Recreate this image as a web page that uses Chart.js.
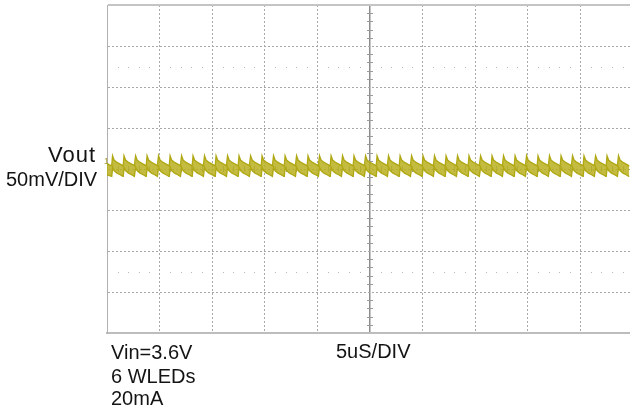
<!DOCTYPE html>
<html>
<head>
<meta charset="utf-8">
<script src="https://cdn.jsdelivr.net/npm/chart.js@4.4.1/dist/chart.umd.min.js"></script>
<style>
  html, body { margin: 0; padding: 0; background: #fff; overflow: hidden; }
  #wrap { position: relative; width: 630px; height: 412px; }
  #c { position: absolute; left: 0; top: 0; }
  .t { position: absolute; font-family: "Liberation Sans", Arial, sans-serif; color: #141414; white-space: nowrap; }
</style>
</head>
<body>
<div id="wrap">
  <canvas id="c" width="630" height="412"></canvas>
  <div class="t" style="right:534px; top:144px; font-size:22px; line-height:22px; letter-spacing:1px;">Vout</div>
  <div class="t" style="left:6px; top:169px; font-size:20px; line-height:20px;">50mV/DIV</div>
  <div class="t" style="left:104px; top:157px; font-size:9px; line-height:9px; color:#a8a030;">1</div>
  <div class="t" style="left:111px; top:342px; font-size:20px; line-height:20px;">Vin=3.6V</div>
  <div class="t" style="left:111px; top:366px; font-size:20px; line-height:20px;">6 WLEDs</div>
  <div class="t" style="left:111px; top:388px; font-size:20px; line-height:20px;">20mA</div>
  <div class="t" style="left:336px; top:341px; font-size:20px; line-height:20px;">5uS/DIV</div>
</div>
<script>
// ---- data ----
// time axis in microseconds (5 us per division), voltage in mV (50 mV per division)
const xTicks = [0, 5, 10, 15, 20, 25, 30, 35, 40, 45];
const yTicks = [-200, -150, -100, -50, 0, 50, 100, 150, 200];
// times (us) at which each ripple spike starts
const spikeTimes = [0.45, 1.54, 2.64, 3.73, 4.82, 5.92, 7.01, 8.10, 9.19, 10.29,
  11.38, 12.47, 13.57, 14.66, 15.75, 16.85, 17.94, 19.03, 20.12, 21.22,
  22.31, 23.40, 24.50, 25.59, 26.68, 27.78, 28.87, 29.96, 31.05, 32.15,
  33.24, 34.33, 35.43, 36.52, 37.61, 38.71, 39.80, 40.89, 41.98, 43.08,
  44.17, 45.26, 46.36, 47.45, 48.54, 49.64];
// one ripple cycle: offsets (us) after the spike start
const cycleOffsets = [0, 0.08, 0.22, 0.50, 0.80, 1.06];
const upperShape = [4, 16, 11, 8, 6, 4];      // top edge of trace band (mV)
const lowerShape = [-9, 2, -2, -5, -7, -9];   // bottom edge of trace band (mV)
const startUpper = 6, startLower = -7;        // trace at the left edge (t = 0)
const xMax = 49.71;

const upper = [{ x: 0, y: startUpper }];
const lower = [{ x: 0, y: startLower }];
spikeTimes.forEach(s => {
  cycleOffsets.forEach((o, i) => {
    const x = s + o;
    if (x <= xMax) {
      upper.push({ x, y: upperShape[i] });
      lower.push({ x, y: lowerShape[i] });
    }
  });
});

const traceColor = 'rgb(176,168,20)';
const traceFill = 'rgba(184,176,30,0.85)';

const scopeDecor = {
  id: 'scopeDecor',
  beforeDatasetsDraw(chart) {
    const { ctx, scales: { x, y } } = chart;
    ctx.save();
    ctx.strokeStyle = '#9a9a9a';
    ctx.lineWidth = 1;
    // minor ticks along the centre vertical line
    const cx = x.getPixelForValue(25);
    for (let v = -200; v <= 200; v += 10) {
      if (v % 50 === 0) continue;
      const py = Math.round(y.getPixelForValue(v)) + 0.5;
      ctx.beginPath(); ctx.moveTo(cx - 3, py); ctx.lineTo(cx + 3, py); ctx.stroke();
    }
    // minor ticks along the centre horizontal line
    const cy = y.getPixelForValue(0);
    for (let t = 0; t <= xMax; t += 1) {
      if (t % 5 === 0) continue;
      const px = Math.round(x.getPixelForValue(t)) + 0.5;
      ctx.beginPath(); ctx.moveTo(px, cy - 3); ctx.lineTo(px, cy + 3); ctx.stroke();
    }
    // faint dot rows at +/- 2.5 divisions
    ctx.fillStyle = '#b8b8b8';
    [125, -125].forEach(v => {
      const py = Math.round(y.getPixelForValue(v));
      for (let t = 1; t <= xMax; t += 1) {
        if (t % 5 === 0) continue;
        const px = Math.round(x.getPixelForValue(t));
        ctx.fillRect(px, py, 1, 1);
      }
    });
    ctx.restore();
  }
};

new Chart(document.getElementById('c'), {
  type: 'line',
  data: {
    datasets: [
      { data: upper, borderColor: traceColor, borderWidth: 1.4, pointRadius: 0, fill: false, tension: 0 },
      { data: lower, borderColor: traceColor, borderWidth: 1.4, pointRadius: 0, fill: '-1', backgroundColor: traceFill, tension: 0 }
    ]
  },
  options: {
    responsive: false,
    animation: false,
    events: [],
    layout: { padding: { left: 107, top: 5, right: 0, bottom: 79 } },
    plugins: { legend: { display: false }, tooltip: { enabled: false } },
    scales: {
      x: {
        type: 'linear', min: 0, max: xMax,
        afterBuildTicks: s => { s.ticks = xTicks.map(v => ({ value: v })); },
        ticks: { display: false },
        grid: {
          drawTicks: false,
          color: c => (c.tick && c.tick.value === 25) ? '#8c8c8c' : '#a8a8a8',
          lineWidth: c => (c.tick && c.tick.value === 25) ? 1.5 : 1
        },
        border: { display: true, color: '#bdbdbd', width: 2, dash: c => (c.tick && c.tick.value === 25) ? [] : [2, 2] }
      },
      y: {
        type: 'linear', min: -200, max: 200,
        afterBuildTicks: s => { s.ticks = yTicks.map(v => ({ value: v })); },
        ticks: { display: false },
        grid: {
          drawTicks: false,
          color: c => (c.tick && c.tick.value === 200) ? '#c4c4c4' : '#a8a8a8',
          lineWidth: c => (c.tick && c.tick.value === 200) ? 2 : 1
        },
        border: { display: true, color: '#b0b0b0', width: 1, dash: c => (c.tick && c.tick.value === 200) ? [] : [2, 2] }
      }
    }
  },
  plugins: [scopeDecor]
});
</script>
</body>
</html>
